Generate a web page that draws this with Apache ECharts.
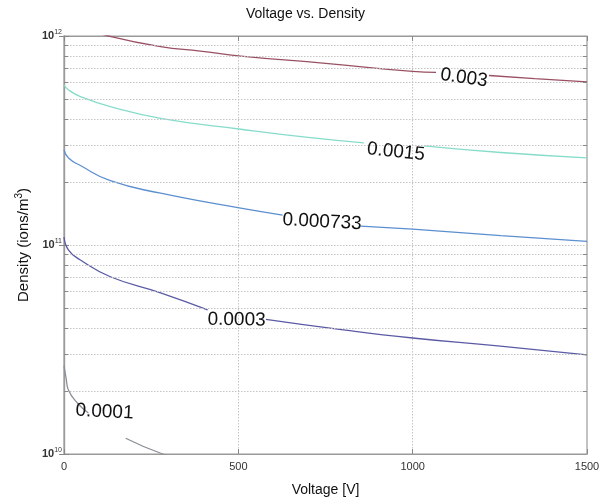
<!DOCTYPE html>
<html>
<head>
<meta charset="utf-8">
<script src="https://cdn.jsdelivr.net/npm/echarts@6/dist/echarts.min.js"></script>
<style>
html,body{margin:0;padding:0;background:#fff;}
#chart{width:611px;height:497px;}
</style>
</head>
<body>
<div id="chart"></div>
<script>
// ---- data (Voltage [V], Density [ions/m^3]) ----
const curveNames = ['0.003', '0.0015', '0.000733', '0.0003', '0.0001'];
const curveColors = ['#9a5062', '#86dccb', '#5c8fcf', '#5b5aa6', '#8a8f96'];

const curve0003 = [[60,1.09e12],[128,1.0e12],[277,8.89e11],[391,8.47e11],[507,8.02e11],[750,7.4e11],[1000,6.77e11],[1067,6.7e11],[1140,null],[1219,6.47e11],[1350,6.25e11],[1500,6.03e11]];
const curve0015 = [[0,5.83e11],[13,5.52e11],[47,5.13e11],[133,4.59e11],[277,4.04e11],[507,3.58e11],[700,3.27e11],[860,3.08e11],[950,null],[1032,2.98e11],[1253,2.77e11],[1500,2.61e11]];
const curve000733 = [[0,2.85e11],[13,2.61e11],[47,2.40e11],[133,2.03e11],[277,1.77e11],[507,1.50e11],[627,1.39e11],[740,null],[851,1.23e11],[1000,1.19e11],[1253,1.11e11],[1500,1.04e11]];
const curve00003 = [[0,1.09e11],[13,9.46e10],[47,8.48e10],[133,7.05e10],[277,5.9e10],[412,4.89e10],[495,null],[579,4.41e10],[785,3.96e10],[1000,3.59e10],[1244,3.29e10],[1500,2.98e10]];
const curve00001 = [[0,2.64e10],[6,2.31e10],[13,2.02e10],[39,1.75e10],[70,1.57e10],[120,null],[177,1.19e10],[283,1.0e10],[400,0.88e10]];
const curves = [curve0003, curve0015, curve000733, curve00003, curve00001];

// contour-style label anchor points [V, density] and rotation
const labelPos = [[1147,6.3e11],[952,2.79e11],[740,1.29e11],[495,4.38e10],[116,1.59e10]];
const labelRotate = [-8, -6, -3, -1, -3];

const xTicks = [0, 500, 1000, 1500];
const yDecades = [1e10, 1e11, 1e12];
const yMinorGrid = [2e10,3e10,4e10,5e10,6e10,7e10,8e10,9e10,2e11,3e11,4e11,5e11,6e11,7e11,8e11,9e11];

const FONT = '"Liberation Sans", Arial, sans-serif';
const GRID_LINE = { color: '#c4c4c4', type: [1.5, 1.5], width: 1 };
const X0 = xTicks[0], X1 = xTicks[xTicks.length - 1];
const tickLen = (X1 - X0) * 0.008;

const series = curves.map((d, i) => ({
  type: 'line',
  name: curveNames[i],
  data: d,
  showSymbol: false,
  symbol: 'none',
  smooth: 0.5,
  connectNulls: false,
  clip: true,
  lineStyle: { color: curveColors[i], width: 1.3 },
  z: 3,
  markPoint: {
    silent: true,
    symbol: 'circle',
    symbolSize: 0,
    data: [{
      coord: labelPos[i],
      label: {
        show: true,
        position: 'inside',
        formatter: curveNames[i],
        color: '#111',
        fontSize: 19,
        fontFamily: FONT,
        rotate: labelRotate[i]
      }
    }]
  }
}));

// minor log grid lines and inward minor ticks on both sides
const minorTickPairs = [];
yMinorGrid.forEach(v => {
  minorTickPairs.push([{ coord: [X0, v] }, { coord: [X0 + tickLen, v] }]);
  minorTickPairs.push([{ coord: [X1 - tickLen, v] }, { coord: [X1, v] }]);
});
series.push({
  type: 'line',
  data: [],
  silent: true,
  markLine: {
    silent: true,
    symbol: ['none', 'none'],
    label: { show: false },
    lineStyle: GRID_LINE,
    data: yMinorGrid.map(v => ({ yAxis: v }))
  }
});
series.push({
  type: 'line',
  data: [],
  silent: true,
  markLine: {
    silent: true,
    symbol: ['none', 'none'],
    label: { show: false },
    lineStyle: { color: '#888', type: 'solid', width: 1 },
    data: minorTickPairs
  }
});

const axisLineStyle = { lineStyle: { color: '#9a9a9a', width: 1.2 } };
const tickStyle = { inside: true, length: 5, lineStyle: { color: '#888' } };

const chart = echarts.init(document.getElementById('chart'), null, { renderer: 'canvas' });
chart.setOption({
  animation: false,
  backgroundColor: '#fff',
  title: {
    text: 'Voltage vs. Density',
    left: 'center',
    top: 2,
    textStyle: { fontFamily: FONT, fontSize: 14, fontWeight: 'normal', color: '#111' }
  },
  grid: { left: 64, right: 24, top: 36, bottom: 43, show: true, borderColor: '#9a9a9a', borderWidth: 1.2, outerBoundsMode: 'none', containLabel: false },
  xAxis: [{
    type: 'value',
    min: X0,
    max: X1,
    interval: 500,
    name: 'Voltage [V]',
    nameLocation: 'middle',
    nameGap: 29,
    nameTextStyle: { fontFamily: FONT, fontSize: 14, color: '#111' },
    axisLine: axisLineStyle,
    axisTick: tickStyle,
    axisLabel: { fontFamily: FONT, fontSize: 11, color: '#333', margin: 7, formatter: v => String(v) },
    splitLine: { show: true, lineStyle: GRID_LINE }
  }, {
    type: 'value',
    position: 'top',
    min: X0,
    max: X1,
    interval: 500,
    axisLine: axisLineStyle,
    axisTick: tickStyle,
    axisLabel: { show: false },
    splitLine: { show: false }
  }],
  yAxis: [{
    type: 'log',
    logBase: 10,
    min: yDecades[0],
    max: yDecades[yDecades.length - 1],
    name: '{a|Density (ions/m}{s|3}{a|)}',
    nameLocation: 'middle',
    nameGap: 31,
    nameTextStyle: {
      rich: {
        a: { fontFamily: FONT, fontSize: 15, color: '#111' },
        s: { fontFamily: FONT, fontSize: 10, color: '#111', verticalAlign: 'top', padding: [0, 0, 8, 0] }
      }
    },
    axisLine: axisLineStyle,
    axisTick: tickStyle,
    axisLabel: {
      margin: 2,
      formatter: v => '{b|10}{s|' + Math.round(Math.log10(v)) + '}',
      rich: {
        b: { fontFamily: FONT, fontSize: 11, color: '#333', fontWeight: 'bold' },
        s: { fontFamily: FONT, fontSize: 7, color: '#333', padding: [0, 0, 7, 0] }
      }
    },
    splitLine: { show: true, lineStyle: GRID_LINE }
  }, {
    type: 'log',
    logBase: 10,
    position: 'right',
    min: yDecades[0],
    max: yDecades[yDecades.length - 1],
    axisLine: axisLineStyle,
    axisTick: tickStyle,
    axisLabel: { show: false },
    splitLine: { show: false }
  }],
  series: series
});
</script>
</body>
</html>
